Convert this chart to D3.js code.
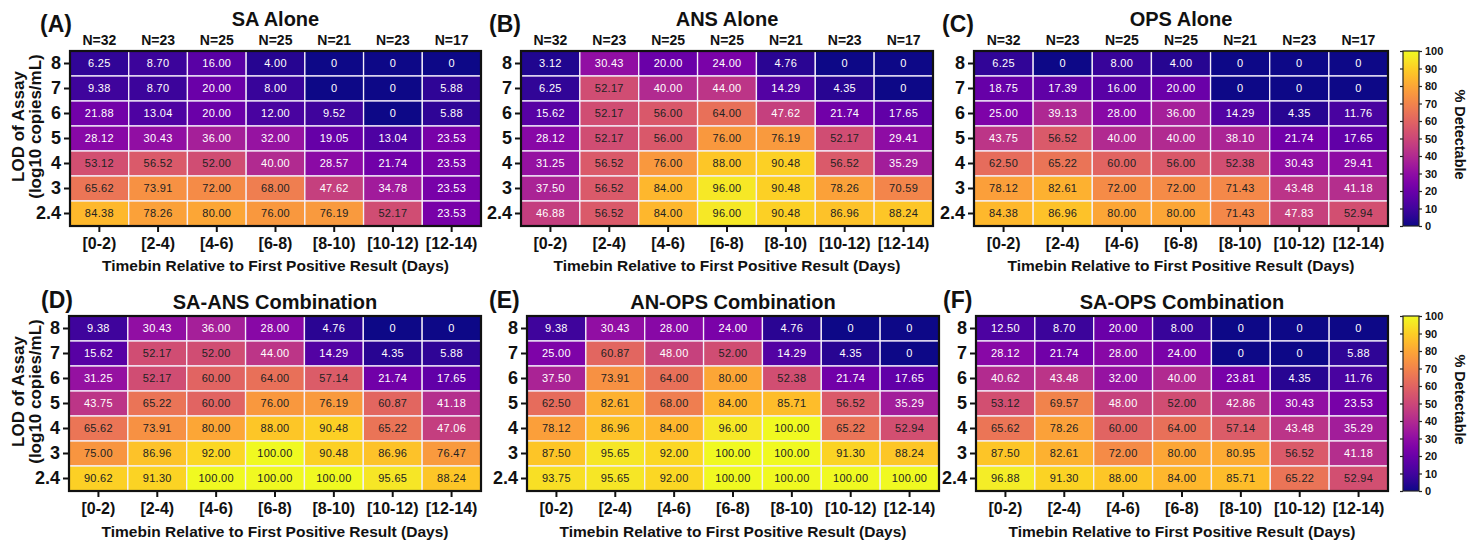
<!DOCTYPE html>
<html>
<head>
<meta charset="utf-8">
<script src="https://cdn.jsdelivr.net/npm/d3@7"></script>
<style>
  body { margin: 0; background: #fff; }
  svg { display: block; font-family: "Liberation Sans", Arial, sans-serif; }
</style>
</head>
<body>
<script>
const WIDTH = 1475;
const HEIGHT = 542;

const lodLabels = ["8", "7", "6", "5", "4", "3", "2.4"];
const timebins = ["[0-2)", "[2-4)", "[4-6)", "[6-8)", "[8-10)", "[10-12)", "[12-14)"];
const nCounts = [32, 23, 25, 25, 21, 23, 17];
const colorbarTicks = [0, 10, 20, 30, 40, 50, 60, 70, 80, 90, 100];

// rows go from LOD 8 (top) down to LOD 2.4 (bottom)
const saAlone = [
  [6.25, 8.70, 16.00, 4.00, 0, 0, 0],
  [9.38, 8.70, 20.00, 8.00, 0, 0, 5.88],
  [21.88, 13.04, 20.00, 12.00, 9.52, 0, 5.88],
  [28.12, 30.43, 36.00, 32.00, 19.05, 13.04, 23.53],
  [53.12, 56.52, 52.00, 40.00, 28.57, 21.74, 23.53],
  [65.62, 73.91, 72.00, 68.00, 47.62, 34.78, 23.53],
  [84.38, 78.26, 80.00, 76.00, 76.19, 52.17, 23.53]
];
const ansAlone = [
  [3.12, 30.43, 20.00, 24.00, 4.76, 0, 0],
  [6.25, 52.17, 40.00, 44.00, 14.29, 4.35, 0],
  [15.62, 52.17, 56.00, 64.00, 47.62, 21.74, 17.65],
  [28.12, 52.17, 56.00, 76.00, 76.19, 52.17, 29.41],
  [31.25, 56.52, 76.00, 88.00, 90.48, 56.52, 35.29],
  [37.50, 56.52, 84.00, 96.00, 90.48, 78.26, 70.59],
  [46.88, 56.52, 84.00, 96.00, 90.48, 86.96, 88.24]
];
const opsAlone = [
  [6.25, 0, 8.00, 4.00, 0, 0, 0],
  [18.75, 17.39, 16.00, 20.00, 0, 0, 0],
  [25.00, 39.13, 28.00, 36.00, 14.29, 4.35, 11.76],
  [43.75, 56.52, 40.00, 40.00, 38.10, 21.74, 17.65],
  [62.50, 65.22, 60.00, 56.00, 52.38, 30.43, 29.41],
  [78.12, 82.61, 72.00, 72.00, 71.43, 43.48, 41.18],
  [84.38, 86.96, 80.00, 80.00, 71.43, 47.83, 52.94]
];
const saAnsCombo = [
  [9.38, 30.43, 36.00, 28.00, 4.76, 0, 0],
  [15.62, 52.17, 52.00, 44.00, 14.29, 4.35, 5.88],
  [31.25, 52.17, 60.00, 64.00, 57.14, 21.74, 17.65],
  [43.75, 65.22, 60.00, 76.00, 76.19, 60.87, 41.18],
  [65.62, 73.91, 80.00, 88.00, 90.48, 65.22, 47.06],
  [75.00, 86.96, 92.00, 100.00, 90.48, 86.96, 76.47],
  [90.62, 91.30, 100.00, 100.00, 100.00, 95.65, 88.24]
];
const anOpsCombo = [
  [9.38, 30.43, 28.00, 24.00, 4.76, 0, 0],
  [25.00, 60.87, 48.00, 52.00, 14.29, 4.35, 0],
  [37.50, 73.91, 64.00, 80.00, 52.38, 21.74, 17.65],
  [62.50, 82.61, 68.00, 84.00, 85.71, 56.52, 35.29],
  [78.12, 86.96, 84.00, 96.00, 100.00, 65.22, 52.94],
  [87.50, 95.65, 92.00, 100.00, 100.00, 91.30, 88.24],
  [93.75, 95.65, 92.00, 100.00, 100.00, 100.00, 100.00]
];
const saOpsCombo = [
  [12.50, 8.70, 20.00, 8.00, 0, 0, 0],
  [28.12, 21.74, 28.00, 24.00, 0, 0, 5.88],
  [40.62, 43.48, 32.00, 40.00, 23.81, 4.35, 11.76],
  [53.12, 69.57, 48.00, 52.00, 42.86, 30.43, 23.53],
  [65.62, 78.26, 60.00, 64.00, 57.14, 43.48, 35.29],
  [87.50, 82.61, 72.00, 80.00, 80.95, 56.52, 41.18],
  [96.88, 91.30, 88.00, 84.00, 85.71, 65.22, 52.94]
];

const ROWS = [
  { top: 51, bottom: 226, letterY: 32, titleY: 26, xTitleY: 271 },
  { top: 316, bottom: 491, letterY: 308, titleY: 309, xTitleY: 537 }
];

const panels = [
  { letter: "(A)", title: "SA Alone", data: saAlone, row: 0, x0: 70, x1: 481, letterX: 40, showN: true, yTitle: true },
  { letter: "(B)", title: "ANS Alone", data: ansAlone, row: 0, x0: 521, x1: 933, letterX: 489, showN: true },
  { letter: "(C)", title: "OPS Alone", data: opsAlone, row: 0, x0: 974, x1: 1388, letterX: 942, showN: true, colorbar: true },
  { letter: "(D)", title: "SA-ANS Combination", data: saAnsCombo, row: 1, x0: 69, x1: 481, letterX: 41, yTitle: true },
  { letter: "(E)", title: "AN-OPS Combination", data: anOpsCombo, row: 1, x0: 527, x1: 939, letterX: 489 },
  { letter: "(F)", title: "SA-OPS Combination", data: saOpsCombo, row: 1, x0: 976, x1: 1388, letterX: 943, colorbar: true }
];

const color = d3.scaleSequential(d3.interpolatePlasma).domain([0, 100]);
const fmt = v => v === 0 ? "0" : v.toFixed(2);

const svg = d3.select("body").append("svg")
    .attr("width", WIDTH)
    .attr("height", HEIGHT)
    .attr("viewBox", [0, 0, WIDTH, HEIGHT]);

// gradient for the colour bars
const grad = svg.append("defs").append("linearGradient")
    .attr("id", "plasma")
    .attr("x1", 0).attr("y1", 1).attr("x2", 0).attr("y2", 0);
grad.selectAll("stop")
  .data(d3.range(0, 1.0001, 0.05))
  .join("stop")
    .attr("offset", d => d)
    .attr("stop-color", d => d3.interpolatePlasma(d));

panels.forEach(drawPanel);

function drawPanel(p) {
  const r = ROWS[p.row];
  const g = svg.append("g");

  const x = d3.scaleBand().domain(timebins).range([p.x0, p.x1]);
  const y = d3.scaleBand().domain(lodLabels).range([r.top, r.bottom]);

  const cells = p.data.flatMap((row, i) => row.map((v, j) => ({ lod: lodLabels[i], bin: timebins[j], value: v })));

  g.append("g")
    .selectAll("rect")
    .data(cells)
    .join("rect")
      .attr("x", d => x(d.bin))
      .attr("y", d => y(d.lod))
      .attr("width", x.bandwidth())
      .attr("height", y.bandwidth())
      .attr("fill", d => color(d.value))
      .attr("stroke", "#f4f0fa")
      .attr("stroke-width", 1.3);

  g.append("g")
      .attr("text-anchor", "middle")
      .style("font-size", "11px")
      .style("letter-spacing", "0.3px")
    .selectAll("text")
    .data(cells)
    .join("text")
      .attr("x", d => x(d.bin) + x.bandwidth() / 2)
      .attr("y", d => y(d.lod) + y.bandwidth() / 2)
      .attr("dy", "0.36em")
      .attr("fill", d => d.value >= 50 ? "#222" : "#ffffff")
      .text(d => fmt(d.value));

  // frame
  g.append("rect")
      .attr("x", p.x0)
      .attr("y", r.top)
      .attr("width", p.x1 - p.x0)
      .attr("height", r.bottom - r.top)
      .attr("fill", "none")
      .attr("stroke", "#111")
      .attr("stroke-width", 2.2);

  // axes
  const yAxis = g.append("g")
      .attr("transform", `translate(${p.x0 - 1},0)`)
      .call(d3.axisLeft(y).tickSize(5).tickPadding(3));
  yAxis.select(".domain").remove();
  yAxis.selectAll("line").attr("stroke", "#111").attr("stroke-width", 2);
  yAxis.selectAll("text")
      .attr("fill", "#111")
      .style("font-family", "'Liberation Sans', Arial, sans-serif")
      .style("font-size", "18px")
      .style("font-weight", "bold");

  const xAxis = g.append("g")
      .attr("transform", `translate(0,${r.bottom + 1})`)
      .call(d3.axisBottom(x).tickSize(5).tickPadding(6));
  xAxis.select(".domain").remove();
  xAxis.selectAll("line").attr("stroke", "#111").attr("stroke-width", 2);
  xAxis.selectAll("text")
      .attr("fill", "#111")
      .style("font-family", "'Liberation Sans', Arial, sans-serif")
      .style("font-size", "16px")
      .style("font-weight", "bold");

  g.append("text")
      .attr("x", (p.x0 + p.x1) / 2)
      .attr("y", r.xTitleY)
      .attr("text-anchor", "middle")
      .style("font-size", "15.5px")
      .style("font-weight", "bold")
      .attr("fill", "#111")
      .text("Timebin Relative to First Positive Result (Days)");

  // titles
  g.append("text")
      .attr("x", p.letterX)
      .attr("y", r.letterY)
      .style("font-size", "23px")
      .style("font-weight", "bold")
      .attr("fill", "#111")
      .text(p.letter);

  g.append("text")
      .attr("x", (p.x0 + p.x1) / 2)
      .attr("y", r.titleY)
      .attr("text-anchor", "middle")
      .style("font-size", "20px")
      .style("font-weight", "bold")
      .attr("fill", "#111")
      .text(p.title);

  if (p.showN) {
    g.append("g")
        .attr("text-anchor", "middle")
        .style("font-size", "14px")
        .style("font-weight", "bold")
      .selectAll("text")
      .data(timebins)
      .join("text")
        .attr("x", (d, i) => x(d) + x.bandwidth() / 2)
        .attr("y", r.top - 6)
        .attr("fill", "#111")
        .text((d, i) => "N=" + nCounts[i]);
  }

  if (p.yTitle) {
    const cy = (r.top + r.bottom) / 2 - 12;
    const t = g.append("text")
        .attr("transform", `translate(24,${cy}) rotate(-90)`)
        .attr("text-anchor", "middle")
        .style("font-size", "17px")
        .style("font-weight", "bold")
        .attr("fill", "#111");
    t.append("tspan").attr("x", 0).attr("dy", 0).text("LOD of Assay");
    t.append("tspan").attr("x", 0).attr("dy", "1.0em").text("(log10 copies/mL)");
  }

  if (p.colorbar) drawColorbar(r);
}

function drawColorbar(r) {
  const bx0 = 1403, bx1 = 1419;
  const g = svg.append("g");
  const c = d3.scaleLinear().domain([0, 100]).range([r.bottom, r.top]);

  g.append("rect")
      .attr("x", bx0)
      .attr("y", r.top)
      .attr("width", bx1 - bx0)
      .attr("height", r.bottom - r.top)
      .attr("fill", "url(#plasma)")
      .attr("stroke", "#222")
      .attr("stroke-width", 1.2);

  const ax = g.append("g")
      .attr("transform", `translate(${bx1},0)`)
      .call(d3.axisRight(c).tickValues(colorbarTicks).tickSize(3).tickPadding(3));
  ax.select(".domain").remove();
  ax.selectAll("line").attr("stroke", "#222").attr("stroke-width", 1.2);
  ax.selectAll("text")
      .attr("fill", "#111")
      .style("font-family", "'Liberation Sans', Arial, sans-serif")
      .style("font-size", "11px")
      .style("font-weight", "bold");

  const axL = g.append("g")
      .attr("transform", `translate(${bx0},0)`)
      .call(d3.axisLeft(c).tickValues(colorbarTicks).tickSize(3).tickFormat(""));
  axL.select(".domain").remove();
  axL.selectAll("line").attr("stroke", "#222").attr("stroke-width", 1.2);

  g.append("text")
      .attr("transform", `translate(1455,${(r.top + r.bottom) / 2 - 4}) rotate(90)`)
      .attr("text-anchor", "middle")
      .style("font-size", "14.5px")
      .style("font-weight", "bold")
      .attr("fill", "#111")
      .text("% Detectable");
}
</script>
</body>
</html>
